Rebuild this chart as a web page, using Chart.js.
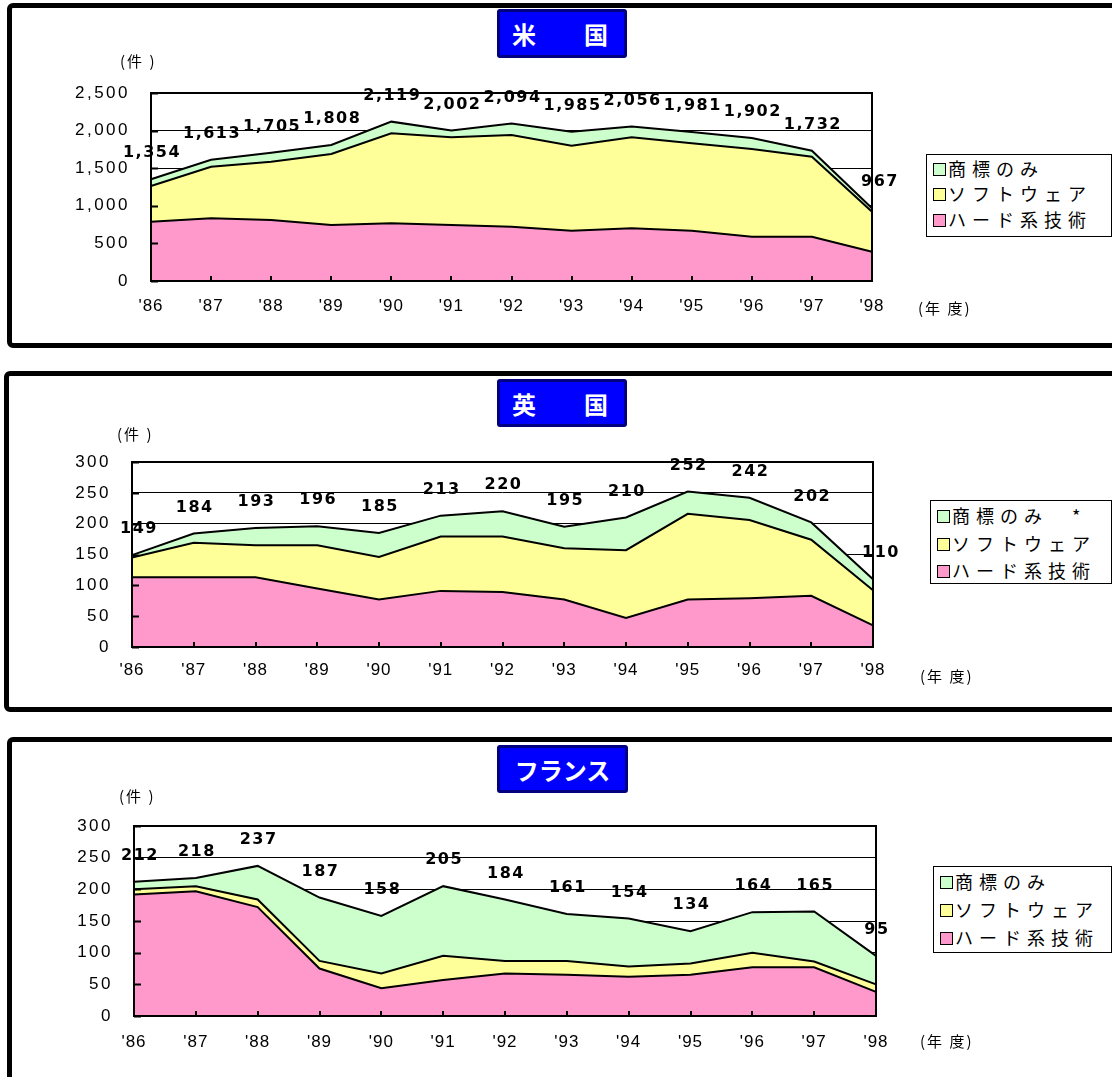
<!DOCTYPE html>
<html><head><meta charset="utf-8">
<script src="https://cdn.jsdelivr.net/npm/chart.js@4.4.1/dist/chart.umd.min.js"></script>
<style>
html,body{margin:0;padding:0;background:#fff;width:1112px;height:1077px;overflow:hidden;position:relative;font-family:"Noto Sans CJK JP",sans-serif;}
.panel{position:absolute;border:5px solid #000;border-radius:6px;box-sizing:border-box;}
canvas{position:absolute;left:0;}
.title{position:absolute;box-sizing:border-box;background:#0000ff;border:3px solid #000080;border-radius:3px;color:#fff;font-size:24px;font-weight:bold;display:flex;align-items:center;z-index:5;}
.legend{position:absolute;border:1px solid #000;background:#fff;box-sizing:border-box;z-index:5;}
.legend div{position:absolute;left:6px;font-size:18px;letter-spacing:6px;line-height:20px;height:20px;white-space:nowrap;}
.legend span.m{display:inline-block;width:11px;height:11px;border:1px solid #000;margin-right:2px;vertical-align:0px;}
.unit{position:absolute;font-size:15px;letter-spacing:2px;z-index:5;color:#000;}
</style>
</head><body>
<script>
const years = ["'86","'87","'88","'89","'90","'91","'92","'93","'94","'95","'96","'97","'98"];
const seriesNames = ["ハード系技術","ソフトウェア","商標のみ"];
const ukTmName = "商標のみ　*";

const usHard = [789, 834, 811, 745, 767, 745, 722, 669, 700, 669, 589, 589, 390];
const usSoft = [474, 686, 776, 944, 1197, 1166, 1219, 1130, 1211, 1162, 1166, 1064, 532];
const usTm   = [91, 93, 118, 119, 155, 91, 153, 186, 145, 150, 147, 79, 45];
const usTotals = [1354, 1613, 1705, 1808, 2119, 2002, 2094, 1985, 2056, 1981, 1902, 1732, 967];

const ukHard = [113, 113, 113, 95, 77, 91, 89, 77, 47, 77, 79, 83, 35];
const ukSoft = [32, 56, 52, 70, 69, 88, 90, 83, 110, 139, 127, 91, 57];
const ukTm   = [4, 15, 28, 31, 39, 34, 41, 35, 53, 36, 36, 28, 18];
const ukTotals = [149, 184, 193, 196, 185, 213, 220, 195, 210, 252, 242, 202, 110];

const frHard = [192, 197, 172, 75, 44, 57, 67, 65, 62, 65, 77, 77, 38];
const frSoft = [8, 8, 12, 12, 23, 38, 20, 22, 16, 18, 23, 9, 12];
const frTm   = [12, 13, 53, 100, 91, 110, 97, 74, 76, 51, 64, 79, 45];
const frTotals = [212, 218, 237, 187, 158, 205, 184, 161, 154, 134, 164, 165, 95];

const usTicks = [0, 500, 1000, 1500, 2000, 2500];
const euTicks = [0, 50, 100, 150, 200, 250, 300];

const COLORS = {hard:'#FF99CC', soft:'#FFFF99', tm:'#CCFFCC'};

function el(tag, cls, css, html){
  const e=document.createElement(tag); if(cls) e.className=cls;
  Object.assign(e.style, css||{}); if(html!==undefined) e.innerHTML=html;
  document.body.appendChild(e); return e;
}

// panels
el('div','panel',{left:'7px',top:'3px',width:'1120px',height:'345px'});
el('div','panel',{left:'4px',top:'371px',width:'1120px',height:'341px'});
el('div','panel',{left:'7px',top:'737px',width:'1120px',height:'360px'});

// titles
el('div','title',{left:'497px',top:'9px',width:'130px',height:'49px',justifyContent:'space-between',padding:'0 16px 0 12px'},'<span>米</span><span>国</span>');
el('div','title',{left:'497px',top:'379px',width:'130px',height:'48px',justifyContent:'space-between',padding:'0 16px 0 12px'},'<span>英</span><span>国</span>');
el('div','title',{left:'497px',top:'745px',width:'131px',height:'48px',justifyContent:'center',padding:'0'},'<span>フランス</span>');

// units
[[120,50],[117,423],[119,785]].forEach(p=>el('div','unit',{left:p[0]+'px',top:p[1]+'px'},'(件 )'));
[[918,297],[920,665],[920,1030]].forEach(p=>el('div','unit',{left:p[0]+'px',top:p[1]+'px'},'(年 度)'));

// legends
function legend(left, top, width, height, rows, tmName){
  const lg = el('div','legend',{left:left+'px',top:top+'px',width:width+'px',height:height+'px'});
  const items=[[tmName,COLORS.tm],[seriesNames[1],COLORS.soft],[seriesNames[0],COLORS.hard]];
  items.forEach((it,i)=>{
    const d=document.createElement('div');
    d.style.top=(rows[i]-10)+'px';
    d.innerHTML='<span class="m" style="background:'+it[1]+'"></span>'+it[0];
    lg.appendChild(d);
  });
}
legend(926,154,186,83,[13,38,64],seriesNames[2]);
legend(930,500,182,84,[14,42,69],ukTmName);
legend(933,866,179,87,[14,42,70],seriesNames[2]);

// plugins
const spacingPlugin = {id:'spacing',
  beforeDraw(chart){ chart.ctx.letterSpacing='2.5px'; },
  afterDatasetsDraw(chart){ chart.ctx.letterSpacing='1px'; }
};
const framePlugin = {id:'frame', afterDatasetsDraw(chart){
  const {ctx, chartArea:a, scales} = chart;
  ctx.save();
  ctx.strokeStyle='#000'; ctx.lineWidth=2;
  ctx.strokeRect(a.left, a.top, a.right-a.left, a.bottom-a.top);
  ctx.beginPath();
  scales.y.ticks.forEach((t,i)=>{ const y=Math.round(scales.y.getPixelForTick(i))+0.5; ctx.moveTo(a.left, y); ctx.lineTo(a.left+7, y); });
  scales.x.ticks.forEach((t,i)=>{ const x=Math.round(scales.x.getPixelForTick(i)); ctx.moveTo(x, a.bottom); ctx.lineTo(x, a.bottom-5); });
  ctx.stroke();
  ctx.restore();
}};
const totalsPlugin = {id:'totals', afterDatasetsDraw(chart, args, opts){
  const {ctx, scales} = chart;
  ctx.save();
  ctx.letterSpacing='1.5px';
  ctx.font='bold 16px "DejaVu Sans", Arial, sans-serif';
  ctx.fillStyle='#000'; ctx.textAlign='center'; ctx.textBaseline='middle';
  const t = opts.values;
  t.forEach((v,i)=>{
    let x = scales.x.getPixelForValue(i);
    if(i===0) x += opts.firstShift||0;
    if(i===t.length-1) x += opts.lastShift||0;
    const y = scales.y.getPixelForValue(v) - 26;
    ctx.fillText(v.toLocaleString('en-US'), x+1, y);
  });
  ctx.restore();
}};

function makeChart(cfg){
  const cv = document.createElement('canvas');
  cv.width = 1112; cv.height = cfg.height;
  cv.style.top = cfg.top+'px'; cv.style.width='1112px'; cv.style.height=cfg.height+'px';
  document.body.appendChild(cv);
  const ds = (label, data, color, fill) => ({label, data, backgroundColor:color, borderColor:'#000', borderWidth:2, pointRadius:0, tension:0, fill});
  new Chart(cv, {
    type:'line',
    data:{labels:years, datasets:[
      ds(seriesNames[0], cfg.hard, COLORS.hard, 'origin'),
      ds(seriesNames[1], cfg.soft, COLORS.soft, '-1'),
      ds(cfg.tmName, cfg.tm, COLORS.tm, '-1')
    ]},
    options:{
      responsive:false, animation:false, devicePixelRatio:1,
      layout:{padding:{left:0, top:cfg.plotTop-cfg.top, right:1112-cfg.plotRight, bottom:0}},
      plugins:{legend:{display:false}, tooltip:{enabled:false}, totals:{values:cfg.totals, firstShift:cfg.firstShift, lastShift:cfg.lastShift}},
      scales:{
        x:{type:'category', offset:false,
           grid:{display:false, drawTicks:false}, border:{display:false},
           ticks:{z:1, color:'#000', padding:cfg.xPad, maxRotation:0, autoSkip:false, font:{family:'"Liberation Sans", Arial, sans-serif', size:17}},
           afterFit(s){ s.height = 40; }},
        y:{stacked:true, min:0, max:cfg.ticks[cfg.ticks.length-1],
           afterBuildTicks(s){ s.ticks = cfg.ticks.map(v=>({value:v})); },
           grid:{color:'#000', lineWidth:1, drawTicks:false}, border:{display:false},
           ticks:{color:'#000', padding:21, font:{family:'"Liberation Sans", Arial, sans-serif', size:17},
                  callback:v=>Number(v).toLocaleString('en-US')},
           afterFit(s){ s.width = cfg.plotLeft; }}
      }
    },
    plugins:[spacingPlugin, framePlugin, totalsPlugin]
  });
}

makeChart({top:40, height:281, plotTop:93, plotLeft:151, plotRight:872, hard:usHard, soft:usSoft, tm:usTm, totals:usTotals, ticks:usTicks, tmName:seriesNames[2], xPad:15, firstShift:0, lastShift:7});
makeChart({top:400, height:287, plotTop:462, plotLeft:132, plotRight:873, hard:ukHard, soft:ukSoft, tm:ukTm, totals:ukTotals, ticks:euTicks, tmName:ukTmName, xPad:13, firstShift:6, lastShift:7});
makeChart({top:760, height:296, plotTop:826, plotLeft:134, plotRight:876, hard:frHard, soft:frSoft, tm:frTm, totals:frTotals, ticks:euTicks, tmName:seriesNames[2], xPad:16, firstShift:5, lastShift:0});
</script>
</body></html>
